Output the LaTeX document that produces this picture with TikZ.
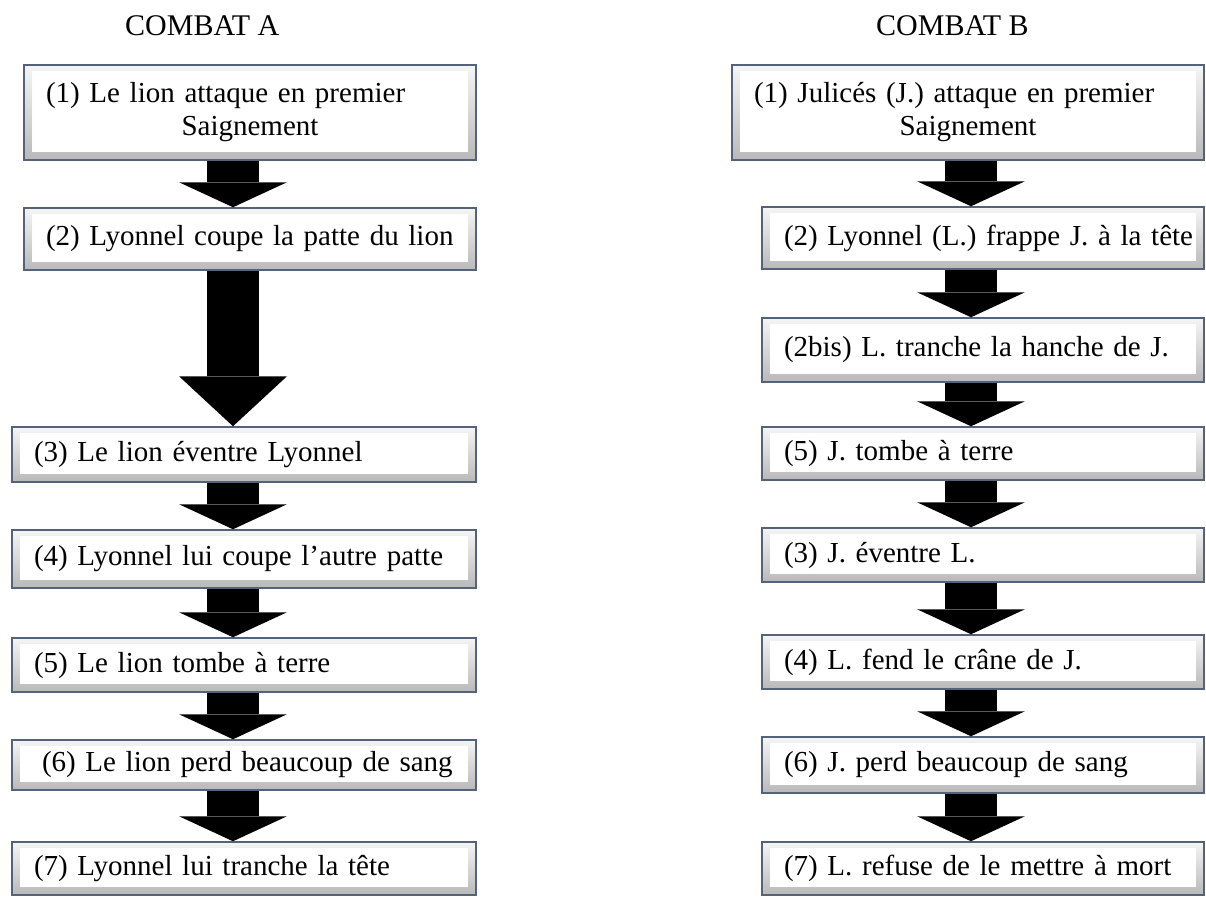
\documentclass[tikz,border=0pt]{standalone}
\usepackage{fontspec}
\setmainfont{Liberation Serif}
\usepackage{tikz}
\usetikzlibrary{arrows.meta}
\usetikzlibrary{calc}

\definecolor{cadre}{RGB}{84,98,122}

\begin{document}
\begin{tikzpicture}[x=1pt,y=-1pt,
	etape/.style={draw=cadre, line width=1.5pt, top color=gray!8, bottom color=gray!55,
		align=left, inner xsep=22pt, inner ysep=0pt, font=\fontsize{29}{33}\selectfont,
		path picture={\fill[white] ([xshift=8pt,yshift=-6pt]path picture bounding box.north west)
			rectangle ([xshift=-8pt,yshift=8pt]path picture bounding box.south east);}},
	fleche/.style={line width=52pt, -{Triangle[width=108pt,length=#1,line width=0pt]}},
	fleche/.default=25pt,
	titre/.style={anchor=base west, inner sep=0pt, font=\fontsize{30}{34}\selectfont}]
	\useasboundingbox (0,0) rectangle (1206,897);
	
	\node[titre] (tA) at (125,35) {COMBAT A};
	\node[titre] (tB) at (876,35) {COMBAT B};
	
	% combat A
	\node[etape, text width=408pt, minimum height=95pt] (a1) at (250,112.5) {\mbox{(1) Le lion attaque en premier}\\\makebox[\hsize]{Saignement}};
	\node[etape, text width=408pt, minimum height=62pt] (a2) at (250,239) {\mbox{(2) Lyonnel coupe la patte du lion}};
	\node[etape, text width=420pt, minimum height=55pt] (a3) at (244,454.5) {\mbox{(3) Le lion éventre Lyonnel}};
	\node[etape, text width=420pt, minimum height=58pt] (a4) at (244,559) {\mbox{(4) Lyonnel lui coupe l’autre patte}};
	\node[etape, text width=420pt, minimum height=54pt] (a5) at (244,665) {\mbox{(5) Le lion tombe à terre}};
	\node[etape, text width=420pt, minimum height=50pt] (a6) at (244,765) {\mbox{\hspace*{8pt}(6) Le lion perd beaucoup de sang}};
	\node[etape, text width=420pt, minimum height=53pt] (a7) at (244,868.5) {\mbox{(7) Lyonnel lui tranche la tête}};
	
	% combat B
	\node[etape, text width=428pt, minimum height=95pt] (b1) at (968,112.5) {\mbox{(1) Julicés (J.) attaque en premier}\\\makebox[\hsize]{Saignement}};
	\node[etape, text width=398pt, minimum height=62pt] (b2) at (983,238) {\mbox{(2) Lyonnel (L.) frappe J. à la tête}};
	\node[etape, text width=398pt, minimum height=64pt] (b3) at (983,350) {\mbox{(2bis) L. tranche la hanche de J.}};
	\node[etape, text width=398pt, minimum height=53pt] (b4) at (983,453.5) {\mbox{(5) J. tombe à terre}};
	\node[etape, text width=398pt, minimum height=54pt] (b5) at (983,555) {\mbox{(3) J. éventre L.}};
	\node[etape, text width=398pt, minimum height=54pt] (b6) at (983,662) {\mbox{(4) L. fend le crâne de J.}};
	\node[etape, text width=398pt, minimum height=56pt] (b7) at (983,765) {\mbox{(6) J. perd beaucoup de sang}};
	\node[etape, text width=398pt, minimum height=53pt] (b8) at (983,868.5) {\mbox{(7) L. refuse de le mettre à mort}};
	
	\coordinate (axeA) at (233,0);
	\coordinate (axeB) at (971,0);
	
	\draw[fleche] (a1.south -| axeA) -- (a2.north -| axeA);
	\draw[fleche=50pt] (a2.south -| axeA) -- (a3.north -| axeA);
	\foreach \i/\j in {3/4,4/5,5/6,6/7}
		\draw[fleche] (a\i.south -| axeA) -- (a\j.north -| axeA);
	
	\foreach \i/\j in {1/2,2/3,3/4,4/5,5/6,6/7,7/8}
		\draw[fleche] (b\i.south -| axeB) -- (b\j.north -| axeB);
\end{tikzpicture}
\end{document}
